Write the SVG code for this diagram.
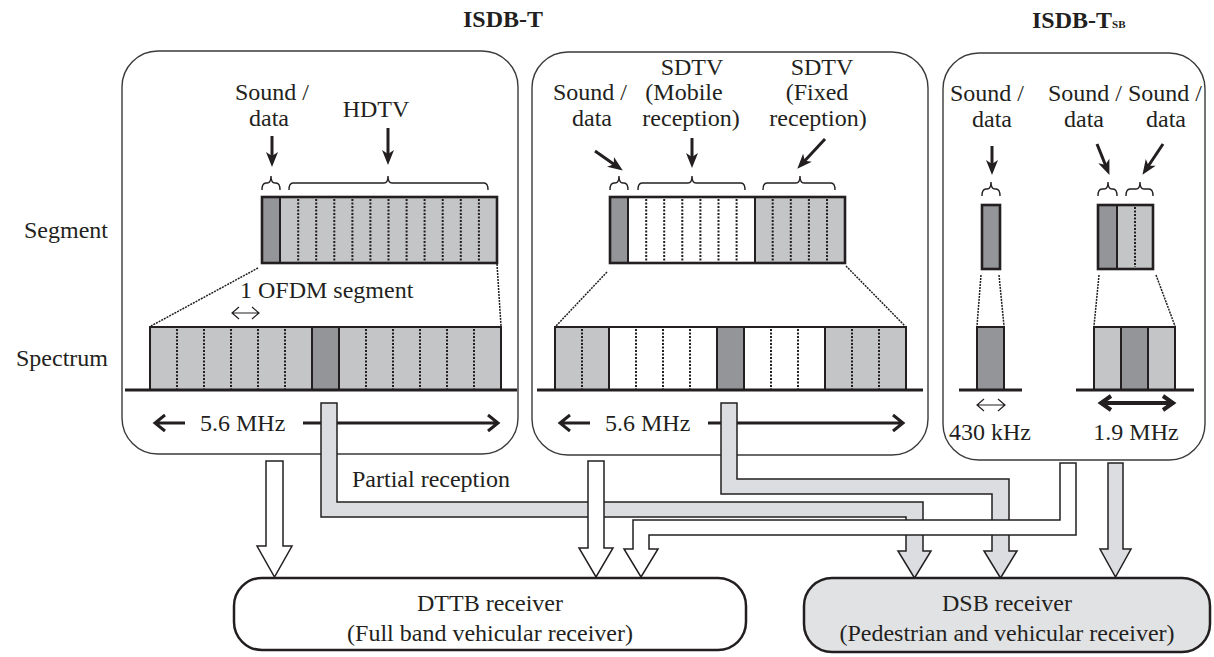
<svg xmlns="http://www.w3.org/2000/svg" width="1214" height="657" viewBox="0 0 1214 657">
<defs>
<style>
.t{font-family:"Liberation Serif","Times New Roman",serif;font-size:24px;fill:#231f20}
.tb{font-weight:bold}
.panel{fill:#fff;stroke:#3a3a3a;stroke-width:1.4}
.dk{fill:#939598;stroke:#231f20;stroke-width:2}
.lt{fill:#c4c5c7;stroke:#231f20;stroke-width:2}
.wt{fill:#fff;stroke:#231f20;stroke-width:2}
.ol{fill:none;stroke:#231f20;stroke-width:2.6}
.dot{stroke:#231f20;stroke-width:2;stroke-dasharray:2 1.5;fill:none}
.conv{stroke:#231f20;stroke-width:1.5;stroke-dasharray:2 1;fill:none}
.brace{fill:none;stroke:#231f20;stroke-width:1.4}
.arr{stroke:#231f20;stroke-width:3;fill:none;marker-end:url(#ah)}
.base{stroke:#231f20;stroke-width:3}
.chev{fill:none;stroke:#231f20;stroke-width:3}
.thin{fill:none;stroke:#231f20;stroke-width:1.2}
.bold{fill:none;stroke:#231f20;stroke-width:4}
.pg{fill:#dcdde0;stroke:#231f20;stroke-width:1.5}
.pw{fill:#fff;stroke:#231f20;stroke-width:1.5}
.rx{stroke:#231f20;stroke-width:2.5}
</style>
<marker id="ah" viewBox="0 0 15 12" refX="5" refY="6" markerWidth="15" markerHeight="12" markerUnits="userSpaceOnUse" orient="auto">
<path d="M0,0 L15,6 L0,12 L4,6 Z" fill="#231f20"/>
</marker>
</defs>
<rect width="1214" height="657" fill="#fff"/>

<g id="titles">
<text class="t tb" x="503" y="27" text-anchor="middle">ISDB-T</text>
<text class="t tb" x="1032" y="28">ISDB-T<tspan font-size="11">SB</tspan></text>
<text class="t" x="108" y="238" text-anchor="end">Segment</text>
<text class="t" x="108" y="366" text-anchor="end">Spectrum</text>
</g>

<g id="panel1">
<rect class="panel" x="122" y="51" width="396" height="403" rx="36"/>
<text class="t" x="272" y="100" text-anchor="middle">Sound /</text>
<text class="t" x="269" y="126" text-anchor="middle">data</text>
<text class="t" x="376" y="117" text-anchor="middle">HDTV</text>
<line class="arr" x1="272" y1="136" x2="272" y2="157"/>
<line class="arr" x1="388" y1="128" x2="388" y2="155"/>
<path class="brace" d="M262,190 Q262,183 266,183 L267,183 Q271,183 271,176 Q271,183 275,183 L276,183 Q280,183 280,190"/>
<path class="brace" d="M289,190 Q289,183 293,183 L384,183 Q388,183 388,176 Q388,183 392,183 L484,183 Q488,183 488,190"/>
<rect class="dk" x="262" y="197" width="18" height="66"/>
<rect class="lt" x="280" y="197" width="217" height="66"/>
<path class="dot" d="M298.2,199V261M316.2,199V261M334.3,199V261M352.4,199V261M370.4,199V261M388.5,199V261M406.6,199V261M424.6,199V261M442.7,199V261M460.8,199V261M478.9,199V261"/>
<rect class="ol" x="262" y="197" width="235" height="66"/>
<line class="conv" x1="258" y1="268" x2="151" y2="326"/>
<line class="conv" x1="497" y1="264" x2="501" y2="326"/>
<text class="t" x="240" y="298">1 OFDM segment</text>
<path class="thin" d="M232,313H259M239,307L232,313L239,319M252,307L259,313L252,319"/>
<rect class="lt" x="150" y="327" width="162" height="63"/>
<rect class="dk" x="312" y="327" width="27" height="63"/>
<rect class="lt" x="339" y="327" width="162" height="63"/>
<path class="dot" d="M177,329V389M204,329V389M231,329V389M258,329V389M285,329V389M366,329V389M393,329V389M420,329V389M447,329V389M474,329V389"/>
<line class="base" x1="125" y1="390" x2="517" y2="390"/>
<text class="t" x="200" y="431">5.6 MHz</text>
<path class="chev" d="M155,423H185M165,415L155,423L165,431M303,423H498M488,415L498,423L488,431"/>
</g>

<g id="panel2">
<rect class="panel" x="532" y="52" width="396" height="403" rx="36"/>
<text class="t" x="590" y="100" text-anchor="middle">Sound /</text>
<text class="t" x="592" y="126" text-anchor="middle">data</text>
<text class="t" x="692" y="75" text-anchor="middle">SDTV</text>
<text class="t" x="684" y="100" text-anchor="middle">(Mobile</text>
<text class="t" x="691" y="126" text-anchor="middle">reception)</text>
<text class="t" x="822" y="75" text-anchor="middle">SDTV</text>
<text class="t" x="817" y="100" text-anchor="middle">(Fixed</text>
<text class="t" x="818" y="126" text-anchor="middle">reception)</text>
<line class="arr" x1="595" y1="151" x2="614.6" y2="164.8"/>
<line class="arr" x1="692" y1="138" x2="692" y2="158"/>
<line class="arr" x1="825" y1="139" x2="804.1" y2="161.4"/>
<path class="brace" d="M610,190 Q610,183 614,183 L615,183 Q619,183 619,176 Q619,183 623,183 L624,183 Q628,183 628,190"/>
<path class="brace" d="M638,190 Q638,183 642,183 L688,183 Q692,183 692,176 Q692,183 696,183 L741,183 Q745,183 745,190"/>
<path class="brace" d="M763,190 Q763,183 767,183 L796,183 Q800,183 800,176 Q800,183 804,183 L831,183 Q835,183 835,190"/>
<rect class="dk" x="610" y="197" width="18" height="66"/>
<rect class="wt" x="628" y="197" width="127" height="66"/>
<rect class="lt" x="755" y="197" width="90" height="66"/>
<path class="dot" d="M646.2,199V261M664.2,199V261M682.3,199V261M700.4,199V261M718.5,199V261M736.6,199V261M772.7,199V261M790.8,199V261M808.9,199V261M827,199V261"/>
<rect class="ol" x="610" y="197" width="235" height="66"/>
<line class="conv" x1="607" y1="272" x2="556" y2="326"/>
<line class="conv" x1="846" y1="266" x2="905" y2="326"/>
<rect class="lt" x="555" y="327" width="54" height="63"/>
<rect class="wt" x="609" y="327" width="108" height="63"/>
<rect class="dk" x="717" y="327" width="27" height="63"/>
<rect class="wt" x="744" y="327" width="81" height="63"/>
<rect class="lt" x="825" y="327" width="81" height="63"/>
<path class="dot" d="M582,329V389M636,329V389M663,329V389M690,329V389M771,329V389M798,329V389M852,329V389M879,329V389"/>
<line class="base" x1="537" y1="390" x2="923" y2="390"/>
<text class="t" x="605" y="431">5.6 MHz</text>
<path class="chev" d="M560,423H590M570,415L560,423L570,431M708,423H903M893,415L903,423L893,431"/>
</g>

<g id="panel3">
<rect class="panel" x="943" y="53" width="262" height="407" rx="36"/>
<text class="t" x="987" y="101" text-anchor="middle">Sound /</text>
<text class="t" x="992" y="127" text-anchor="middle">data</text>
<text class="t" x="1048" y="101">Sound /</text>
<text class="t" x="1084" y="127" text-anchor="middle">data</text>
<text class="t" x="1128" y="101">Sound /</text>
<text class="t" x="1166" y="127" text-anchor="middle">data</text>
<line class="arr" x1="992" y1="146" x2="992" y2="165"/>
<line class="arr" x1="1097" y1="144" x2="1105.7" y2="165.6"/>
<line class="arr" x1="1163" y1="144" x2="1148" y2="166.5"/>
<path class="brace" d="M982,196 Q982,189 986,189 L987,189 Q991,189 991,182 Q991,189 995,189 L996,189 Q1000,189 1000,196"/>
<path class="brace" d="M1098,196 Q1098,189 1102,189 L1104,189 Q1108,189 1108,182 Q1108,189 1112,189 L1113,189 Q1117,189 1117,196"/>
<path class="brace" d="M1126,196 Q1126,189 1130,189 L1136,189 Q1140,189 1140,182 Q1140,189 1144,189 L1149,189 Q1153,189 1153,196"/>
<rect class="dk" x="982" y="205" width="18" height="64"/>
<rect class="ol" x="982" y="205" width="18" height="64"/>
<rect class="dk" x="1098" y="205" width="19" height="64"/>
<rect class="lt" x="1117" y="205" width="36" height="64"/>
<path class="dot" d="M1135,207V267"/>
<rect class="ol" x="1098" y="205" width="55" height="64"/>
<line class="conv" x1="981" y1="275" x2="977" y2="326"/>
<line class="conv" x1="999" y1="275" x2="1004" y2="326"/>
<line class="conv" x1="1099" y1="275" x2="1094" y2="326"/>
<line class="conv" x1="1156" y1="275" x2="1175" y2="326"/>
<rect class="dk" x="977" y="327" width="27" height="63"/>
<rect class="lt" x="1094" y="327" width="27" height="63"/>
<rect class="dk" x="1121" y="327" width="27" height="63"/>
<rect class="lt" x="1148" y="327" width="27" height="63"/>
<line class="base" x1="959" y1="390" x2="1022" y2="390"/>
<line class="base" x1="1076" y1="390" x2="1194" y2="390"/>
<path class="thin" d="M977,405H1005M984,399L977,405L984,411M998,399L1005,405L998,411"/>
<path class="bold" d="M1102,403H1172M1111,396L1101,403L1111,410M1163,396L1173,403L1163,410"/>
<text class="t" x="990" y="440" text-anchor="middle">430 kHz</text>
<text class="t" x="1136" y="440" text-anchor="middle">1.9 MHz</text>
</g>

<g id="connectors">
<path class="pg" d="M321,403 L337,403 L337,502 L923,502 L923,551 L931,551 L914.5,578 L898,551 L906,551 L906,517 L321,517 Z"/>
<path class="pg" d="M721,403 L737,403 L737,479 L1009,479 L1009,551 L1017,551 L1000.5,578 L984,551 L992,551 L992,494 L721,494 Z"/>
<path class="pg" d="M1108,463 L1123,463 L1123,549 L1131,549 L1115.5,577 L1100,549 L1108,549 Z"/>
<path class="pw" d="M1060,463 L1076,463 L1076,535 L649,535 L649,549 L658,549 L641,577 L624,549 L633,549 L633,520 L1060,520 Z"/>
<path class="pw" d="M266,461 L283,461 L283,546 L292,546 L274.5,577 L257,546 L266,546 Z"/>
<path class="pw" d="M588,461 L604,461 L604,548 L613,548 L596,577 L579,548 L588,548 Z"/>
<text class="t" x="352" y="487">Partial reception</text>
</g>

<g id="dttb">
<rect class="rx" x="234" y="578" width="512" height="72" rx="28" fill="#fff"/>
<text class="t" x="490" y="611" text-anchor="middle">DTTB receiver</text>
<text class="t" x="490" y="641" text-anchor="middle">(Full band vehicular receiver)</text>
</g>

<g id="dsb">
<rect class="rx" x="804" y="578" width="406" height="74" rx="28" fill="#e1e2e4"/>
<text class="t" x="1007" y="611" text-anchor="middle">DSB receiver</text>
<text class="t" x="1007" y="641" text-anchor="middle">(Pedestrian and vehicular receiver)</text>
</g>
</svg>
